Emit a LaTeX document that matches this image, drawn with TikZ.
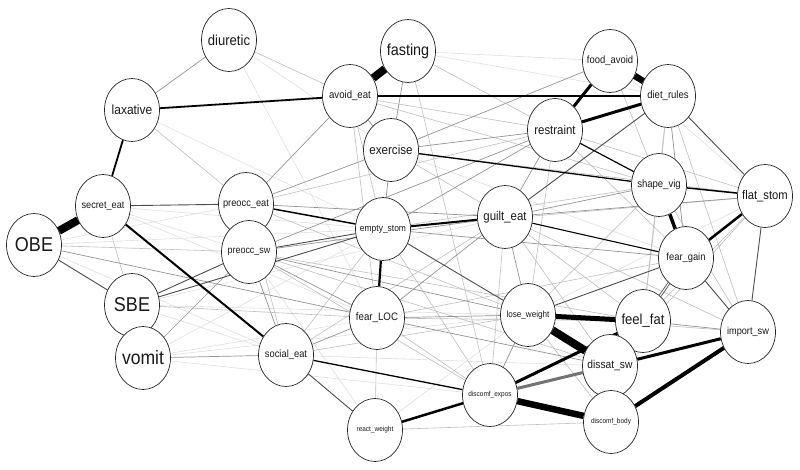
\documentclass[tikz,border=0pt]{standalone}
\usepackage{fontspec}
\setmainfont{Liberation Sans}[FakeStretch=0.9]
\usetikzlibrary{shapes.geometric}
\pgfdeclarelayer{bg}
\pgfdeclarelayer{edges}
\pgfsetlayers{bg,edges,main}
\newcommand\lb[2]{\makebox[0pt]{\fontsize{#1}{#1}\selectfont #2}}
\begin{document}
\begin{tikzpicture}[x=1pt,y=-1pt,
 nd/.style={ellipse,draw=black!85,line width=0.7pt,fill=white,minimum width=55pt,minimum height=63pt,inner sep=0pt,text=black!90},
 ea/.style={draw=black!12,line width=0.6pt},
 eb/.style={draw=black!25,line width=0.6pt},
 ec/.style={draw=black!42,line width=0.7pt},
 ed/.style={draw=black!70,line width=0.9pt},
 sk/.style={draw=black,line width=#1}]
\useasboundingbox (0,0) rectangle (800,470);
\begin{pgfonlayer}{bg}
\fill[white] (0,0) rectangle (800,470);
\end{pgfonlayer}
% nodes
\node[nd] (diur) at (229,40) {\lb{14.5}{diuretic}};
\node[nd] (fast) at (408,51) {\lb{16}{fasting}};
\node[nd] (lax) at (132,110) {\lb{13.3}{laxative}};
\node[nd] (avoid) at (350,96) {\lb{10.7}{avoid\_eat}};
\node[nd] (food) at (610,61) {\lb{10.5}{food\_avoid}};
\node[nd] (diet) at (668,96) {\lb{10.6}{diet\_rules}};
\node[nd] (restr) at (555,130) {\lb{12.7}{restraint}};
\node[nd] (exer) at (391,150) {\lb{12.9}{exercise}};
\node[nd] (shape) at (659,185) {\lb{10.6}{shape\_vig}};
\node[nd] (flat) at (765,196) {\lb{12.5}{flat\_stom}};
\node[nd] (secret) at (103,206) {\lb{10.2}{secret\_eat}};
\node[nd] (peat) at (246,204) {\lb{10.3}{preocc\_eat}};
\node[nd] (empty) at (383,229) {\lb{9.4}{empty\_stom}};
\node[nd] (guilt) at (505,217) {\lb{12.7}{guilt\_eat}};
\node[nd] (obe) at (34,245) {\lb{20}{OBE}};
\node[nd] (psw) at (249,252) {\lb{9.9}{preocc\_sw}};
\node[nd] (sbe) at (132,305) {\lb{20}{SBE}};
\node[nd] (fgain) at (686,258) {\lb{10.4}{fear\_gain}};
\node[nd] (floc) at (377,318) {\lb{10.8}{fear\_LOC}};
\node[nd] (lose) at (528,315) {\lb{9.0}{lose\_weight}};
\node[nd] (feel) at (643,321) {\lb{14.5}{feel\_fat}};
\node[nd] (imp) at (748,332) {\lb{10.2}{import\_sw}};
\node[nd] (vomit) at (143,358) {\lb{19.5}{vomit}};
\node[nd] (social) at (286,355) {\lb{10.4}{social\_eat}};
\node[nd] (dissat) at (610,366) {\lb{11.4}{dissat\_sw}};
\node[nd] (dexp) at (490,395) {\lb{7.2}{discomf\_expos}};
\node[nd] (dbody) at (611,422) {\lb{7.2}{discomf\_body}};
\node[nd] (react) at (375,430) {\lb{7.2}{react\_weight}};
\begin{pgfonlayer}{edges}
% very light
\foreach \a/\b in {fast/food,fast/diet,food/flat,exer/fgain,flat/lose,secret/psw,secret/floc,obe/peat,obe/social,sbe/social,sbe/lose,vomit/floc,vomit/empty,vomit/dexp,react/psw,diur/floc,lax/empty,diur/exer,obe/empty,sbe/guilt,vomit/lose,social/dissat,react/lose,secret/empty}
  \draw[ea] (\a)--(\b);
% light
\foreach \a/\b in {diur/avoid,avoid/empty,avoid/floc,avoid/restr,avoid/shape,fast/restr,food/shape,diet/shape,diet/imp,diet/feel,restr/peat,restr/fgain,restr/flat,restr/lose,exer/flat,exer/guilt,shape/empty,shape/imp,shape/feel,flat/empty,flat/feel,secret/sbe,peat/lose,peat/social,empty/dexp,guilt/dexp,guilt/feel,obe/psw,sbe/floc,psw/dexp,psw/dissat,psw/feel,social/lose,social/empty,social/guilt,floc/react,floc/feel,floc/fgain,floc/dexp,react/dbody,lose/imp,lose/dbody,imp/guilt,lax/peat,fast/dexp,flat/dissat,shape/lose,guilt/dissat}
  \draw[eb] (\a)--(\b);
% medium
\foreach \a/\b in {diur/lax,avoid/exer,avoid/peat,fast/exer,food/exer,diet/fgain,restr/exer,restr/guilt,restr/empty,exer/empty,exer/peat,shape/guilt,flat/guilt,peat/guilt,empty/fgain,guilt/lose,guilt/floc,guilt/psw,obe/floc,vomit/psw,vomit/social,psw/social,psw/lose,psw/floc,social/floc,floc/lose,floc/dissat,lose/dexp,feel/imp,dissat/fgain,psw/restr}
  \draw[ec] (\a)--(\b);
% dark
\foreach \a/\b in {diet/flat,secret/peat,obe/sbe,sbe/psw,sbe/empty,psw/empty,empty/lose,social/react,lose/fgain,imp/flat,imp/fgain,diet/guilt}
  \draw[ed] (\a)--(\b);
% strong
\draw[sk=8pt] (obe)--(secret);
\draw[sk=8pt] (fast)--(avoid);
\draw[sk=6.5pt] (food)--(diet);
\draw[sk=3pt] (food)--(restr);
\draw[sk=3pt] (restr)--(diet);
\draw[sk=1.8pt] (lax)--(avoid);
\draw[sk=1.8pt] (lax)--(secret);
\draw[sk=1.4pt] (avoid)--(diet);
\draw[sk=2pt] (secret)--(social);
\draw[sk=1.5pt] (peat)--(empty);
\draw[sk=2pt] (empty)--(guilt);
\draw[sk=2.2pt] (empty)--(floc);
\draw[sk=5pt] (lose)--(feel);
\draw[sk=8pt] (lose)--(dissat);
\draw[sk=6.5pt] (dexp)--(dbody);
\draw[draw=black!55,line width=3pt] (dexp)--(dissat);
\draw[sk=3pt] (dexp)--(feel);
\draw[sk=3pt] (dissat)--(imp);
\draw[sk=4pt] (dbody)--(imp);
\draw[sk=3.5pt] (shape)--(fgain);
\draw[sk=2.5pt] (flat)--(fgain);
\draw[draw=black!60,double=white,double distance=1pt,line width=1pt] (fgain)--(feel);
\draw[sk=1.3pt] (social)--(dexp);
\draw[sk=2.5pt] (react)--(dexp);
\draw[sk=1.3pt] (exer)--(shape);
\draw[sk=1.2pt] (restr)--(shape);
\draw[sk=1.5pt] (shape)--(flat);
\draw[sk=1.1pt] (guilt)--(fgain);
\end{pgfonlayer}
\end{tikzpicture}
\end{document}
